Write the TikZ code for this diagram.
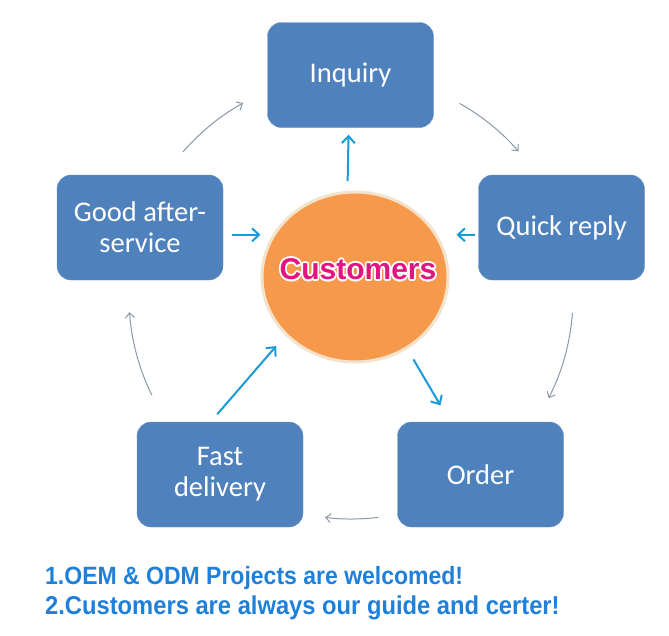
\documentclass[tikz,border=0pt]{standalone}
\usepackage{fontspec}
\setmainfont{Carlito}
\newfontfamily\arialfont{Liberation Sans}
\newfontfamily\notefont{Liberation Sans}[FakeStretch=0.92]
\usepackage[copies]{contour}
\contourlength{1.6pt}
\usetikzlibrary{arrows.meta,calc,shapes.geometric}

\definecolor{boxblue}{HTML}{4F81BD}
\definecolor{ringorange}{HTML}{F7994A}
\definecolor{rimcream}{HTML}{F3E3CC}
\definecolor{arrowblue}{HTML}{1B9AD9}
\definecolor{cyclegray}{HTML}{8A97AA}
\definecolor{hotpink}{HTML}{E3137F}
\definecolor{noteblue}{HTML}{1E80DA}

\tikzset{
  stage/.style={rectangle, rounded corners=14pt, fill=boxblue, draw=boxblue!85!white,
    minimum width=166pt, minimum height=105pt, text=white, align=center,
    font=\fontsize{28.5}{31}\selectfont},
  push/.style={draw=arrowblue, line width=2pt, -{Straight Barb[length=7pt,width=13pt]}},
  ringarrow/.style={draw=cyclegray, line width=1pt, -{Straight Barb[length=5pt,width=9pt]}},
  note/.style={text=noteblue, inner sep=0pt, anchor=base west,
    font=\notefont\bfseries\fontsize{25}{29}\selectfont}
}

\begin{document}
\begin{tikzpicture}[x=1pt, y=1pt]

        \useasboundingbox (0,0) rectangle (669,-635);

        % The five stages
        \node[stage] (inq) at (350.5,-75)  {Inquiry};
        \node[stage] (qr)  at (561.5,-227.5) {Quick reply};
        \node[stage] (ord) at (480.5,-474.5) {Order};
        \node[stage] (fd)  at (220,-474.5) {Fast\\delivery};
        \node[stage] (gas) at (140,-227.5) {Good after-\\service};

        % Customers in the middle
        \node[ellipse, fill=ringorange, draw=rimcream, line width=3pt, inner sep=0pt,
          minimum width=186pt, minimum height=170pt] (cust) at (355,-277) {};
        \node[text=hotpink, font=\arialfont\bfseries\fontsize{30}{34}\selectfont]
          (custlabel) at (358,-270) {\contour{white}{Customers}};

        % Thin arrows going round the cycle
        \coordinate (ring) at (351,-297);
        \foreach \a/\b in {139.2/119.1, 60.7/41.0, -4.1/-27.1, -82.9/-96.7, -153.7/-176.1}
          \draw[ringarrow] (ring) ++(\a:222) arc[start angle=\a, end angle=\b, radius=222];

        % Blue arrows to and from the centre
        \draw[push, shorten <=10pt, shorten >=7pt] (cust.95) -- (inq.268);
        \draw[push, shorten <=3pt, shorten >=7pt] (qr.185) -- (qr.185 -| cust.east);
        \draw[push, shorten <=9pt] (gas.355) -- (gas.355 -| cust.west);
        \draw[push, shorten <=10pt, shorten >=14pt] (fd.100) -- (cust.220);
        \draw[push, shorten <=12pt, shorten >=19pt] (cust.306) -- (ord.120);

        % Notes at the bottom
        \node[note] (note1) at (45,-584) {1.OEM \& ODM Projects are welcomed!};
        \node[note, font=\notefont\bfseries\fontsize{25.8}{29}\selectfont]
          (note2) at (45,-614) {2.Customers are always our guide and certer!};

      \end{tikzpicture}
\end{document}
